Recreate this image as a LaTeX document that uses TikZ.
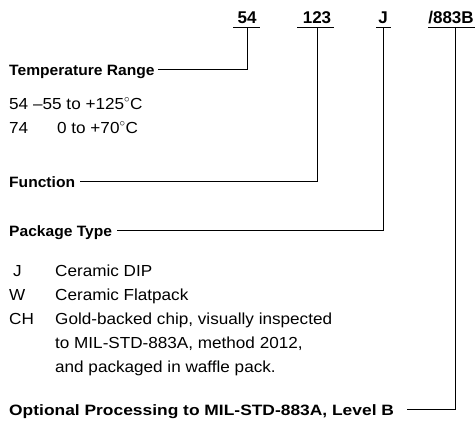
\documentclass[tikz,border=0pt]{standalone}
\usepackage{fontspec}
\setmainfont{Liberation Sans}
\newfontfamily\regfont{Liberation Sans}[FakeStretch=1.07,Ligatures=TeX]
\newfontfamily\labfont{Liberation Sans}[FakeStretch=1.04,Ligatures=TeX]
\newfontfamily\optfont{Liberation Sans}[FakeStretch=1.16,Ligatures=TeX]
\begin{document}
\begin{tikzpicture}[x=1pt,y=-1pt,
  code/.style={font=\fontsize{17}{19}\selectfont\bfseries,inner sep=0pt,anchor=base},
  lab/.style={font=\labfont\fontsize{15}{17}\selectfont\bfseries,inner sep=0pt,anchor=base west},
  optlab/.style={font=\optfont\fontsize{15}{17}\selectfont\bfseries,inner sep=0pt,anchor=base west},
  txt/.style={font=\regfont\fontsize{16}{18}\selectfont,inner sep=0pt,anchor=base west},
  wire/.style={line width=0.9pt}]
\useasboundingbox (0,0) rectangle (476,428);
% codes
\node[code] (c54) at (247,24) {54};
\node[code] (c123) at (317,24) {123};
\node[code] (cJ) at (383,24) {J};
\node[code] (c883) at (451,24) {/883B};
\foreach \n/\l/\r in {c54/233/260,c123/297/334,cJ/376/391,c883/428/475}
  \draw[wire] (\l,27.5) -- (\r,27.5);
% labels
\node[lab] (tr) at (9,75) {Temperature Range};
\node[lab] (fn) at (9,187) {Function};
\node[lab] (pk) at (9,236) {Package Type};
\node[optlab] (op) at (9,415) {Optional Processing to MIL-STD-883A, Level B};
% connectors
\draw[wire] ([xshift=3pt,yshift=5.5pt]tr.base east) -| ([yshift=-3.5pt]c54.base);
\draw[wire] ([xshift=5pt,yshift=5.5pt]fn.base east) -| ([yshift=-3.5pt]c123.base);
\draw[wire] ([xshift=5pt,yshift=5.5pt]pk.base east) -| ([yshift=-3.5pt]cJ.base);
\draw[wire] ([xshift=13pt,yshift=5.5pt]op.base east) -| ([xshift=4pt,yshift=-3.5pt]c883.base);
% temperature rows
\node[txt] (a54) at (9,109) {54};
\node[txt] (r54) at (33,109) {–55 to +125$^{\circ}$C};
\node[txt] (a74) at (9,133) {74};
\node[txt] (r74) at (57,133) {0 to +70$^{\circ}$C};
% package rows
\node[txt] (pJ) at (13,276) {J};
\node[txt] (dJ) at (55,276) {Ceramic DIP};
\node[txt] (pW) at (9,300) {W};
\node[txt] (dW) at (55,300) {Ceramic Flatpack};
\node[txt] (pCH) at (9,324) {CH};
\node[txt] (dCH1) at (55,324) {Gold-backed chip, visually inspected};
\node[txt] (dCH2) at (55,348) {to MIL-STD-883A, method 2012,};
\node[txt] (dCH3) at (55,372) {and packaged in waffle pack.};
\end{tikzpicture}
\end{document}
